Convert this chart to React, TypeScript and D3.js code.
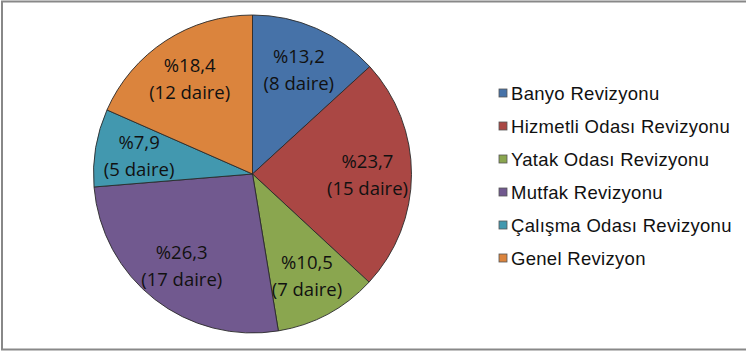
import React from "react";
import * as d3 from "d3";

const categories = [
  "Banyo Revizyonu",
  "Hizmetli Odası Revizyonu",
  "Yatak Odası Revizyonu",
  "Mutfak Revizyonu",
  "Çalışma Odası Revizyonu",
  "Genel Revizyon",
];
const percents = [13.2, 23.7, 10.5, 26.3, 7.9, 18.4];
const units = [8, 15, 7, 17, 5, 12];
const colors = ["#4672A8", "#AA4744", "#8AA64F", "#71598F", "#4298AF", "#DB843D"];

const W = 746;
const H = 352;
const cx = 252.5;
const cy = 174;
const R = 159;
const labelR = 115;

export default function App() {
  const pie = d3
    .pie<number>()
    .sort(null)
    .value((d) => d);
  const arcs = pie(percents);
  const arcGen = d3.arc<d3.PieArcDatum<number>>().innerRadius(0).outerRadius(R);
  const labelArc = d3
    .arc<d3.PieArcDatum<number>>()
    .innerRadius(labelR)
    .outerRadius(labelR);

  const legendY = d3
    .scalePoint<string>()
    .domain(categories)
    .range([93, 258]);

  const fmt = (v: number) => "%" + v.toFixed(1).replace(".", ",");

  return (
    <svg
      width={W}
      height={H}
      style={{ position: "absolute", left: 0, top: 0, background: "#fff" }}
    >
      <rect x={2} y={1.5} width={W + 10} height={348} fill="#fff" stroke="#888" strokeWidth={2} />
      <g transform={`translate(${cx},${cy})`}>
        {arcs.map((a, i) => (
          <path key={i} d={arcGen(a) || ""} fill={colors[i]} stroke="#2a2a2a" strokeWidth={0.9} />
        ))}
        {arcs.map((a, i) => {
          const [x, y] = labelArc.centroid(a);
          return (
            <text
              key={i}
              x={x}
              y={y}
              textAnchor="middle"
              fontFamily="'Open Sans', sans-serif"
              fontSize={18.5}
              fill="#111"
            >
              <tspan x={x} dy={-6}>{fmt(percents[i])}</tspan>
              <tspan x={x} dy={27}>{`(${units[i]} daire)`}</tspan>
            </text>
          );
        })}
      </g>
      <g>
        {categories.map((c, i) => {
          const y = legendY(c) as number;
          return (
            <g key={c}>
              <rect x={499} y={y - 4} width={8} height={8} fill={colors[i]} stroke="#555" strokeWidth={0.8} />
              <text
                x={511}
                y={y}
                dy="0.36em"
                fontFamily="'Liberation Sans', Arial, sans-serif"
                fontSize={18.5}
                letterSpacing={0.3}
                fill="#111"
              >
                {c}
              </text>
            </g>
          );
        })}
      </g>
    </svg>
  );
}
